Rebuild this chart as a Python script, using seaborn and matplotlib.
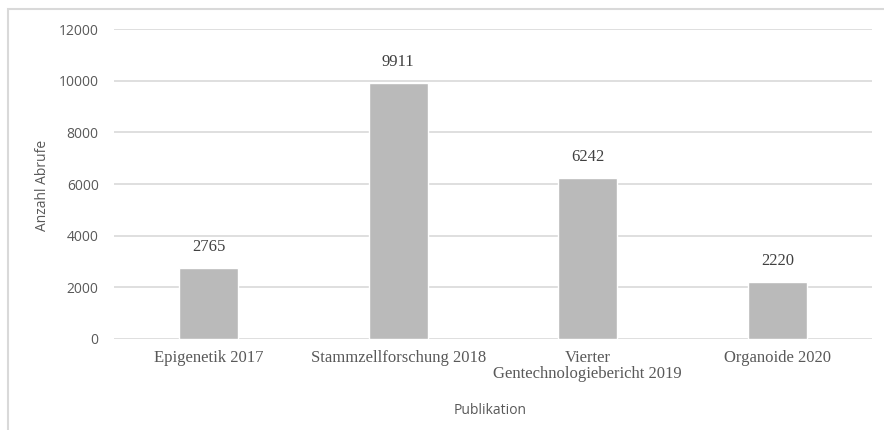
import matplotlib
matplotlib.use("Agg")
import matplotlib.pyplot as plt
import seaborn as sns
import pandas as pd
from matplotlib.patches import Rectangle

# data
publikationen = ["Epigenetik 2017", "Stammzellforschung 2018",
                 "Vierter\nGentechnologiebericht 2019", "Organoide 2020"]
abrufe = [2765, 9911, 6242, 2220]
y_ticks = [0, 2000, 4000, 6000, 8000, 10000, 12000]

df = pd.DataFrame({"Publikation": publikationen, "Anzahl Abrufe": abrufe})

sns.set_theme(style="white")
plt.rcParams["font.family"] = ["Open Sans", "DejaVu Sans"]

W, H = 884, 430
fig = plt.figure(figsize=(W / 100, H / 100), dpi=100)
ax = fig.add_axes([114 / W, 1 - 339 / H, (872 - 114) / W, (339 - 29) / H])

sns.barplot(data=df, x="Publikation", y="Anzahl Abrufe", color="#bababa",
            width=0.31, saturation=1, ax=ax, zorder=3)

ax.set_ylim(0, 12000)
ax.set_xlim(-0.5, len(publikationen) - 0.5)
ax.set_yticks(y_ticks)
ax.set_yticklabels([str(t) for t in y_ticks], color="#595959", fontsize=10)
ax.tick_params(axis="y", length=0, pad=11)
ax.tick_params(axis="x", length=0, pad=8)
for lbl in ax.get_xticklabels():
    lbl.set_fontfamily("Liberation Serif")
    lbl.set_fontsize(12)
    lbl.set_color("#595959")
    lbl.set_linespacing(1.0)

ax.grid(axis="y", color="#d9d9d9", linewidth=1.2, zorder=0)
for s in ax.spines.values():
    s.set_visible(False)

for i, v in enumerate(abrufe):
    ax.annotate(str(v), (i, v), xytext=(0, 9), textcoords="offset points",
                ha="center", va="bottom", fontsize=12, color="#404040",
                family="Liberation Serif")

ax.set_xlabel("")
ax.set_ylabel("")
fig.text(43 / W, 1 - 185 / H, "Anzahl Abrufe", rotation=90, ha="center",
         va="center", fontsize=10, color="#595959")
fig.text(490 / W, 1 - 410 / H, "Publikation", ha="center", va="center",
         fontsize=10, color="#595959")

# outer chart frame (cut off at right and bottom in the reference)
fig.patches.append(Rectangle((8 / W, -0.2), 2, 1 - 9 / H + 0.2,
                             transform=fig.transFigure, fill=False,
                             edgecolor="#d9d9d9", linewidth=1.5))

fig.savefig("out.png", dpi=100)
